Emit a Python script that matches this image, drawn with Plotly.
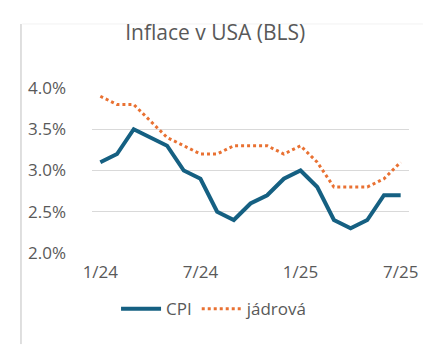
import plotly.graph_objects as go

months = ["1/24", "2/24", "3/24", "4/24", "5/24", "6/24", "7/24", "8/24", "9/24",
          "10/24", "11/24", "12/24", "1/25", "2/25", "3/25", "4/25", "5/25", "6/25", "7/25"]
cpi = [3.1, 3.2, 3.5, 3.4, 3.3, 3.0, 2.9, 2.5, 2.4, 2.6, 2.7, 2.9, 3.0, 2.8, 2.4, 2.3, 2.4, 2.7, 2.7]
core = [3.9, 3.8, 3.8, 3.6, 3.4, 3.3, 3.2, 3.2, 3.3, 3.3, 3.3, 3.2, 3.3, 3.1, 2.8, 2.8, 2.8, 2.9, 3.1]
x_ticks = ["1/24", "7/24", "1/25", "7/25"]
y_ticks = [2.0, 2.5, 3.0, 3.5, 4.0]

FONT = "Open Sans"
TXT = "#595959"

fig = go.Figure()
fig.add_trace(go.Scatter(x=months, y=cpi, name="CPI", mode="lines",
                         line=dict(color="#156082", width=4)))
fig.add_trace(go.Scatter(x=months, y=core, name="jádrová", mode="lines",
                         line=dict(color="#E97132", width=3, dash="dot")))

fig.update_layout(
    width=438, height=358,
    margin=dict(l=84, r=37, t=80, b=113),
    paper_bgcolor="white", plot_bgcolor="white",
    font=dict(family=FONT, color=TXT, size=17),
    title=dict(text="Inflace v USA (BLS)", x=0.473, xanchor="center",
               y=0.93, yanchor="middle", font=dict(size=21, color=TXT, family=FONT)),
    showlegend=True,
    legend=dict(orientation="h", x=0.385, xanchor="center", y=-0.34, yanchor="middle",
                font=dict(size=17, color=TXT), itemwidth=40, tracegroupgap=0),
    xaxis=dict(type="category", tickmode="array", tickvals=x_ticks, ticktext=x_ticks,
               showgrid=False, zeroline=False, showline=False, ticks="",
               ticklabelstandoff=7, range=[-0.5, len(months) - 0.5]),
    yaxis=dict(range=[2.0, 4.0], tickvals=y_ticks,
               ticktext=[f"{v:.1f}%" for v in y_ticks],
               showgrid=True, gridcolor="#D9D9D9", gridwidth=1,
               zeroline=False, showline=False, ticks="", ticklabelstandoff=25),
    shapes=[
        dict(type="line", xref="paper", yref="paper", x0=-0.224, x1=-0.224,
             y0=1.388, y1=-0.552, line=dict(color="#BFBFBF", width=1)),
        dict(type="line", xref="paper", yref="paper", x0=-0.22, x1=1.044,
             y0=1.388, y1=1.388, line=dict(color="#F2F2F2", width=1)),
    ],
)

fig.write_html("out.html")
